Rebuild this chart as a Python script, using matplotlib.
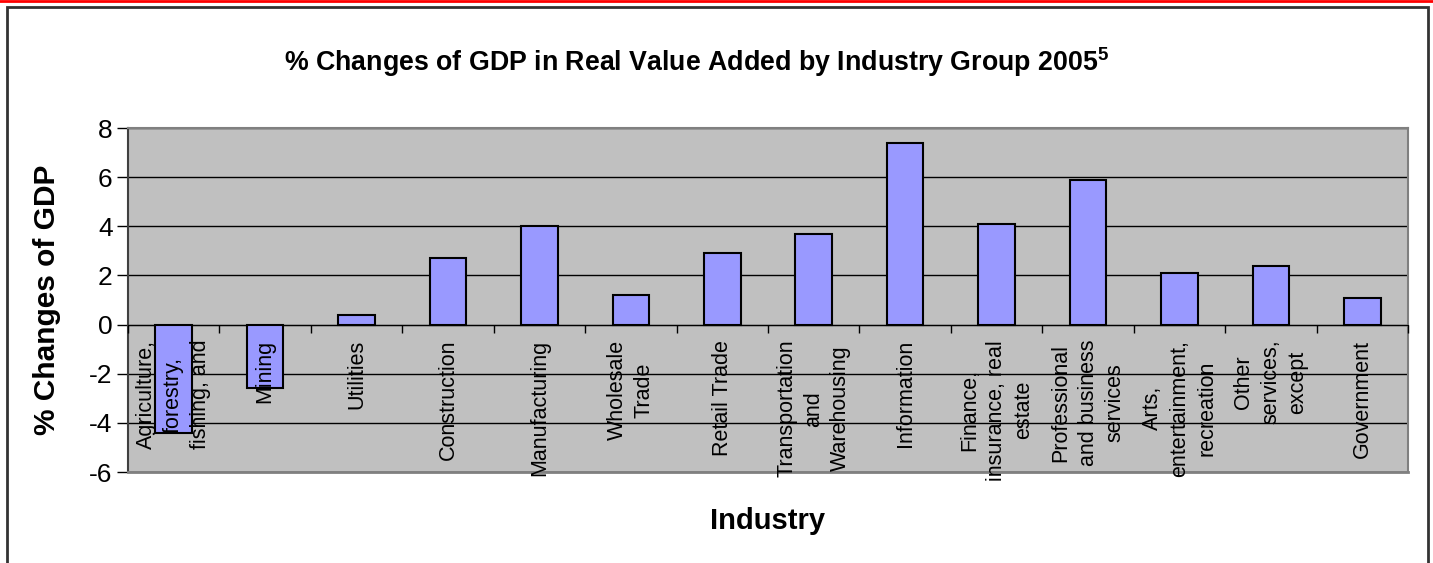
import matplotlib
matplotlib.use("Agg")
import matplotlib.pyplot as plt
import numpy as np
from matplotlib.lines import Line2D
from matplotlib.patches import Rectangle

plt.rcParams['font.family'] = ['Liberation Sans', 'DejaVu Sans']
plt.rcParams['mathtext.fontset'] = 'custom'
plt.rcParams['mathtext.rm'] = 'Liberation Sans:bold'
plt.rcParams['axes.unicode_minus'] = False

##### DATA #####
industries = [
    "Agriculture,\nforestry,\nfishing, and",
    "Mining",
    "Utilities",
    "Construction",
    "Manufacturing",
    "Wholesale\nTrade",
    "Retail Trade",
    "Transportation\nand\nWarehousing",
    "Information",
    "Finance,\ninsurance, real\nestate",
    "Professional\nand business\nservices",
    "Arts,\nentertainment,\nrecreation",
    "Other\nservices,\nexcept",
    "Government",
]
pct_change = [-4.4, -2.6, 0.4, 2.7, 4.0, 1.2, 2.9, 3.7, 7.4, 4.1, 5.9, 2.1, 2.4, 1.1]
yticks = [-6, -4, -2, 0, 2, 4, 6, 8]
################

W, H = 1433, 563
fig = plt.figure(figsize=(W / 100, H / 100), dpi=100)

# plot area in pixel coords
left, right, top, bottom = 128, 1408, 128, 472
ax = fig.add_axes([left / W, 1 - bottom / H, (right - left) / W, (bottom - top) / H])
ax.set_facecolor("#C0C0C0")

x = np.arange(len(industries))
ax.bar(x, pct_change, width=0.4, color="#9999FF", edgecolor="black", linewidth=1.5, zorder=3)

ax.set_xlim(-0.5, len(industries) - 0.5)
ax.set_ylim(yticks[0], yticks[-1])
ax.set_yticks(yticks)
ax.tick_params(axis="y", direction="out", length=8, width=1, labelsize=19, pad=3)
ax.yaxis.grid(True, color="black", linewidth=1)
ax.set_axisbelow(True)

# category axis sits on zero
ax.spines["bottom"].set_position(("data", 0))
ax.spines["bottom"].set_color("black")
ax.spines["bottom"].set_zorder(2.5)
ax.spines["left"].set_color("#404040")
ax.spines["left"].set_linewidth(1.5)
for s in ["top", "right"]:
    ax.spines[s].set_color("#808080")
    ax.spines[s].set_linewidth(1.5)
ax.axhline(yticks[0], color="#808080", linewidth=2, clip_on=False, zorder=4)

ax.set_xticks(x)
ax.set_xticklabels(industries, rotation=90, fontsize=15.5, va="top", ha="center",
                   multialignment="center", linespacing=1.38)
ax.set_xticks(np.arange(len(industries) + 1) - 0.5, minor=True)
ax.tick_params(axis="x", which="major", length=0, pad=11)
ax.tick_params(axis="x", which="minor", direction="out", length=6, width=1)
ax.xaxis.set_zorder(5)  # labels sit on top of the bars

ax.set_ylabel("% Changes of GDP", fontsize=21.5, fontweight="bold", labelpad=20)

fig.text(697 / W, 1 - 62 / H, "% Changes of GDP in Real Value Added by Industry Group 2005$^{5}$",
         ha="center", va="center", fontsize=19.3, fontweight="bold")
fig.text((left + right) / 2 / W, 1 - 521 / H, "Industry",
         ha="center", va="center", fontsize=21, fontweight="bold")

# outer frame and red rule at top
fig.add_artist(Rectangle((7 / W, -0.05), (1428 - 7) / W, 1 - 7 / H + 0.05,
                         transform=fig.transFigure, fill=False, edgecolor="#333333", linewidth=2))
fig.add_artist(Line2D([0, 1], [1 - 1 / H, 1 - 1 / H], transform=fig.transFigure,
                      color="red", linewidth=2))

fig.savefig("out.png", dpi=100)
plt.close(fig)
